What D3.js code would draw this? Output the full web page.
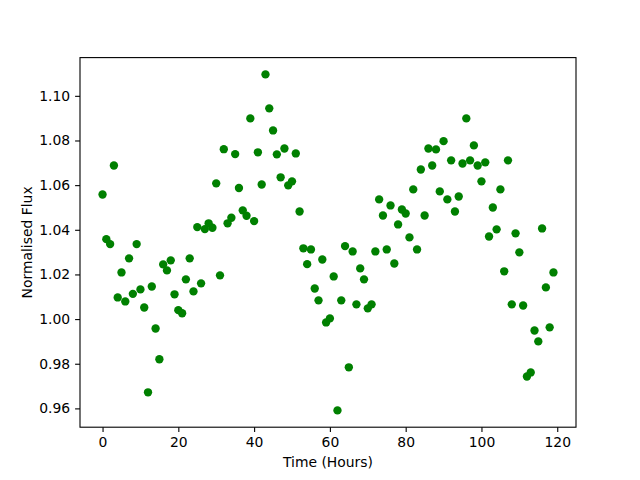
<!DOCTYPE html>
<html>
<head>
<meta charset="utf-8">
<script src="https://cdn.jsdelivr.net/npm/d3@7"></script>
<style>
  body { margin: 0; background: #fff; }
  svg text { font-family: "DejaVu Sans", sans-serif; fill: #000; }
</style>
</head>
<body>
<div id="chart"></div>
<script>
// hourly samples
const hours = [
  0, 1, 2, 3, 4, 5, 6, 7, 8, 9,
  10, 11, 12, 13, 14, 15, 16, 17, 18, 19,
  20, 21, 22, 23, 24, 25, 26, 27, 28, 29,
  30, 31, 32, 33, 34, 35, 36, 37, 38, 39,
  40, 41, 42, 43, 44, 45, 46, 47, 48, 49,
  50, 51, 52, 53, 54, 55, 56, 57, 58, 59,
  60, 61, 62, 63, 64, 65, 66, 67, 68, 69,
  70, 71, 72, 73, 74, 75, 76, 77, 78, 79,
  80, 81, 82, 83, 84, 85, 86, 87, 88, 89,
  90, 91, 92, 93, 94, 95, 96, 97, 98, 99,
  100, 101, 102, 103, 104, 105, 106, 107, 108, 109,
  110, 111, 112, 113, 114, 115, 116, 117, 118, 119
];

const flux = [
  1.0558, 1.0358, 1.0336, 1.0688, 1.0097, 1.0209, 1.0079, 1.0272, 1.0113, 1.0336,
  1.0133, 1.0052, 0.9672, 1.0146, 0.9958, 0.9820, 1.0245, 1.0218, 1.0263, 1.0111,
  1.0040, 1.0026, 1.0178, 1.0272, 1.0124, 1.0412, 1.0160, 1.0403, 1.0429, 1.0409,
  1.0608, 1.0196, 1.0761, 1.0429, 1.0454, 1.0739, 1.0587, 1.0487, 1.0463, 1.0899,
  1.0439, 1.0747, 1.0603, 1.1096, 1.0944, 1.0845, 1.0738, 1.0635, 1.0764, 1.0599,
  1.0617, 1.0742, 1.0482, 1.0317, 1.0246, 1.0312, 1.0137, 1.0084, 1.0267, 0.9985,
  1.0003, 1.0191, 0.9591, 1.0084, 1.0327, 0.9784, 1.0303, 1.0066, 1.0227, 1.0178,
  1.0048, 1.0066, 1.0303, 1.0536, 1.0464, 1.0312, 1.0509, 1.0249, 1.0424, 1.0491,
  1.0473, 1.0366, 1.0581, 1.0312, 1.0670, 1.0464, 1.0764, 1.0688, 1.0760, 1.0572,
  1.0797, 1.0536, 1.0711, 1.0482, 1.0549, 1.0697, 1.0899, 1.0711, 1.0778, 1.0688,
  1.0617, 1.0702, 1.0370, 1.0500, 1.0402, 1.0581, 1.0214, 1.0711, 1.0066, 1.0384,
  1.0299, 1.0061, 0.9743, 0.9761, 0.9949, 0.9900, 1.0406, 1.0142, 0.9963, 1.0209
];

const xTicks = [0, 20, 40, 60, 80, 100, 120];
const yTicks = [0.96, 0.98, 1.00, 1.02, 1.04, 1.06, 1.08, 1.10];

const cfg = {
  width: 640,
  height: 480,
  margin: { left: 80, right: 64, top: 57.6, bottom: 52.8 }
};

// matplotlib style 5% padding around the data
function padded(values) {
  const [lo, hi] = d3.extent(values);
  const pad = (hi - lo) * 0.05;
  return [lo - pad, hi + pad];
}

const xScale = d3.scaleLinear(padded(hours), [cfg.margin.left, cfg.width - cfg.margin.right]);
const yScale = d3.scaleLinear(padded(flux), [cfg.height - cfg.margin.bottom, cfg.margin.top]);

const svg = d3.select("#chart")
  .append("svg")
  .attr("width", cfg.width)
  .attr("height", cfg.height);

// the points
svg.append("g")
  .selectAll("circle")
  .data(hours.map((h, i) => [h, flux[i]]))
  .join("circle")
  .attr("cx", d => xScale(d[0]))
  .attr("cy", d => yScale(d[1]))
  .attr("r", 4.17)
  .style("fill", "#008000");

// axes
const xAxis = d3.axisBottom(xScale).tickValues(xTicks).tickSize(4.9).tickPadding(5).tickFormat(d3.format("d"));
const yAxis = d3.axisLeft(yScale).tickValues(yTicks).tickSize(4.9).tickPadding(5).tickFormat(d3.format(".2f"));

const gx = svg.append("g")
  .attr("transform", `translate(0, ${cfg.height - cfg.margin.bottom})`)
  .call(xAxis);
const gy = svg.append("g")
  .attr("transform", `translate(${cfg.margin.left}, 0)`)
  .call(yAxis);

[gx, gy].forEach(g => {
  g.select(".domain").remove();
  g.selectAll(".tick line").style("stroke", "#000").style("stroke-width", 1.1);
  g.selectAll(".tick text").style("font-size", "13.9px").style("font-family", "DejaVu Sans");
});

// frame round the plot area
svg.append("rect")
  .attr("x", cfg.margin.left)
  .attr("y", cfg.margin.top)
  .attr("width", cfg.width - cfg.margin.left - cfg.margin.right)
  .attr("height", cfg.height - cfg.margin.top - cfg.margin.bottom)
  .style("fill", "none")
  .style("stroke", "#000")
  .style("stroke-width", 1.1);

// axis titles
svg.append("text")
  .attr("x", (cfg.margin.left + cfg.width - cfg.margin.right) / 2)
  .attr("y", 467)
  .attr("text-anchor", "middle")
  .style("font-size", "13.9px")
  .text("Time (Hours)");

svg.append("text")
  .attr("transform", `translate(31.5, ${(cfg.margin.top + cfg.height - cfg.margin.bottom) / 2}) rotate(-90)`)
  .attr("text-anchor", "middle")
  .style("font-size", "13.9px")
  .text("Normalised Flux");
</script>
</body>
</html>
